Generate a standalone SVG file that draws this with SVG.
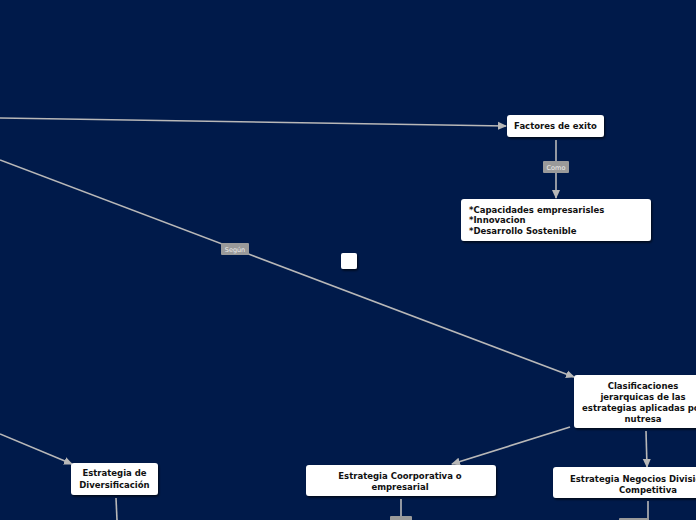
<svg xmlns="http://www.w3.org/2000/svg" width="696" height="520" viewBox="0 0 696 520">
<defs>
<marker id="ah" markerWidth="10" markerHeight="10" refX="8" refY="5" orient="auto" markerUnits="userSpaceOnUse">
<path d="M0,1 L9,5 L0,9 z" fill="#b8b8b8"/>
</marker>
<filter id="sh" x="-10%" y="-10%" width="130%" height="150%">
<feDropShadow dx="1" dy="1.5" stdDeviation="0.8" flood-color="#000" flood-opacity="0.7"/>
</filter>
</defs>
<style>
.n{fill:#fff;filter:url(#sh)}
.t{font-family:"DejaVu Sans",sans-serif;font-weight:bold;font-size:8.5px;fill:#111}
.c{stroke:#b8b8b8;stroke-width:1.6;fill:none}
.lb{fill:#9a9a9a}
.lt{font-family:"DejaVu Sans",sans-serif;font-size:6.5px;fill:#eee;text-anchor:middle}
</style>
<rect width="696" height="520" fill="#001a4a"/>
<g id="connectors">
<line class="c" x1="0" y1="118" x2="506" y2="126" marker-end="url(#ah)"/>
<line class="c" x1="556" y1="140" x2="556" y2="198" marker-end="url(#ah)"/>
<rect class="lb" x="543" y="161" width="26" height="12" rx="1"/>
<text class="lt" x="556" y="170">Como</text>
<line class="c" x1="0" y1="160" x2="574" y2="377" marker-end="url(#ah)"/>
<rect class="lb" x="221" y="243" width="28" height="12" rx="1"/>
<text class="lt" x="235" y="252">Según</text>
<line class="c" x1="570" y1="427" x2="452" y2="464" marker-end="url(#ah)"/>
<line class="c" x1="646" y1="431" x2="647" y2="467" marker-end="url(#ah)"/>
<line class="c" x1="0" y1="434" x2="72" y2="464" marker-end="url(#ah)"/>
<line class="c" x1="401" y1="499" x2="401" y2="520"/>
<rect class="lb" x="390" y="516" width="22" height="8" rx="1"/>
<line class="c" x1="648" y1="501" x2="648" y2="520"/>
<rect class="lb" x="619" y="518" width="30" height="6" rx="1"/>
<line class="c" x1="116" y1="498" x2="117" y2="520"/>
</g>
<g id="factores">
<rect class="n" x="507" y="115" width="97" height="22" rx="3"/>
<text class="t" x="555.5" y="129" text-anchor="middle">Factores de exito</text>
</g>
<g id="capacidades">
<rect class="n" x="461" y="199" width="190" height="42" rx="3"/>
<text class="t" x="469" y="213">*Capacidades empresarisles</text>
<text class="t" x="469" y="223">*Innovacion</text>
<text class="t" x="469" y="234">*Desarrollo Sostenible</text>
</g>
<g id="empty">
<rect class="n" x="341" y="253" width="16" height="16" rx="2"/>
</g>
<g id="clasificaciones">
<rect class="n" x="574" y="375" width="130" height="53" rx="3"/>
<text class="t" text-anchor="middle"><tspan x="643" y="389">Clasificaciones</tspan><tspan x="643" y="400">jerarquicas de las</tspan><tspan x="643" y="411">estrategias aplicadas por</tspan><tspan x="643" y="422">nutresa</tspan></text>
</g>
<g id="coorporativa">
<rect class="n" x="306" y="465" width="190" height="31" rx="3"/>
<text class="t" text-anchor="middle"><tspan x="400" y="479">Estrategia Coorporativa o</tspan><tspan x="400" y="490">empresarial</tspan></text>
</g>
<g id="negocios">
<rect class="n" x="553" y="467" width="190" height="31" rx="3"/>
<text class="t"><tspan x="570" y="482">Estrategia Negocios Division</tspan></text>
<text class="t" text-anchor="middle"><tspan x="648" y="493">Competitiva</tspan></text>
</g>
<g id="diversificacion">
<rect class="n" x="71" y="463" width="87" height="32" rx="3"/>
<text class="t" text-anchor="middle"><tspan x="114.5" y="476">Estrategia de</tspan><tspan x="114.5" y="488">Diversificación</tspan></text>
</g>
</svg>
